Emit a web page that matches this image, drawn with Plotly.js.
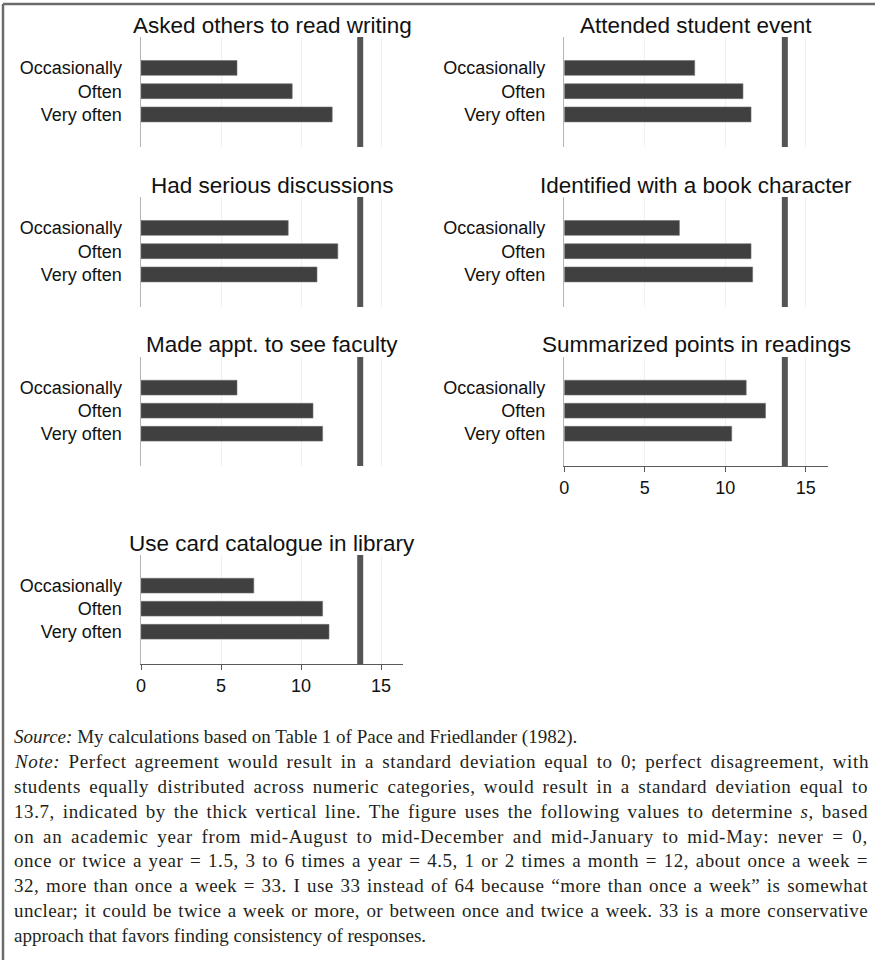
<!DOCTYPE html>
<html>
<head>
<meta charset="utf-8">
<script src="https://cdn.plot.ly/plotly-3.0.1.min.js"></script>
<style>
  html, body { margin: 0; padding: 0; background: #ffffff; }
  #chart { width: 875px; height: 960px; }
</style>
</head>
<body>
<div id="chart"></div>
<script>
// ---------- data ----------
const categories = ['Occasionally', 'Often', 'Very often'];
const panelTitles = [
  'Asked others to read writing',
  'Attended student event',
  'Had serious discussions',
  'Identified with a book character',
  'Made appt. to see faculty',
  'Summarized points in readings',
  'Use card catalogue in library'
];
const askedOthers        = [6.0, 9.45, 11.95];
const attendedEvent      = [8.1, 11.1, 11.6];
const seriousDiscussions = [9.2, 12.3, 11.0];
const identifiedCharacter= [7.15, 11.6, 11.7];
const madeAppt           = [6.0, 10.75, 11.35];
const summarizedPoints   = [11.3, 12.5, 10.4];
const cardCatalogue      = [7.05, 11.35, 11.75];
const panelValues = [askedOthers, attendedEvent, seriousDiscussions, identifiedCharacter,
                     madeAppt, summarizedPoints, cardCatalogue];
const perfectDisagreementSD = 13.7;
const xTickVals = [0, 5, 10, 15];
const xTickText = ['0', '5', '10', '15'];

const noteLines = [
  '<i>Source:</i> My calculations based on Table 1 of Pace and Friedlander (1982).',
  '<i>Note:</i> Perfect agreement would result in a standard deviation equal to 0; perfect disagreement, with',
  'students equally distributed across numeric categories, would result in a standard deviation equal to',
  '13.7, indicated by the thick vertical line. The figure uses the following values to determine <i>s</i>, based',
  'on an academic year from mid-August to mid-December and mid-January to mid-May: never = 0,',
  'once or twice a year = 1.5, 3 to 6 times a year = 4.5, 1 or 2 times a month = 12, about once a week =',
  '32, more than once a week = 33. I use 33 instead of 64 because \u201cmore than once a week\u201d is somewhat',
  'unclear; it could be twice a week or more, or between once and twice a week. 33 is a more conservative',
  'approach that favors finding consistency of responses.'
];
// lines that are justified to the full text width (paragraph-final lines are not)
const justifiedLines = [false, true, true, true, true, true, true, true, false];

// ---------- layout geometry (pixels) ----------
const W = 875, H = 960;
const colX = [[141, 403.4], [564.3, 828.3]];
const rowY = [[37, 147], [197, 307], [357, 466], [555, 664]];
const panelPos = [
  {col: 0, row: 0, showX: false},
  {col: 1, row: 0, showX: false},
  {col: 0, row: 1, showX: false},
  {col: 1, row: 1, showX: false},
  {col: 0, row: 2, showX: false},
  {col: 1, row: 2, showX: true},
  {col: 0, row: 3, showX: true}
];
const px2x = p => p / W;
const px2y = p => 1 - p / H;

const sans = 'Liberation Sans, Arial, Helvetica, sans-serif';
const serif = 'Liberation Serif, Times New Roman, serif';

const traces = [];
const layout = {
  width: W, height: H,
  margin: {l: 0, r: 0, t: 0, b: 0},
  paper_bgcolor: '#ffffff',
  plot_bgcolor: 'rgba(0,0,0,0)',
  showlegend: false,
  shapes: [],
  annotations: []
};

panelValues.forEach((vals, i) => {
  const n = i + 1;
  const p = panelPos[i];
  const xs = colX[p.col], ys = rowY[p.row];
  traces.push({
    type: 'bar', orientation: 'h',
    x: vals, y: categories,
    xaxis: 'x' + n, yaxis: 'y' + n,
    width: 0.64,
    marker: {color: '#404040', line: {color: '#6e6e6e', width: 0.6}},
    hoverinfo: 'skip', showlegend: false
  });
  layout['xaxis' + n] = {
    domain: [px2x(xs[0]), px2x(xs[1])],
    anchor: 'y' + n,
    range: [0, 16.4],
    tickmode: 'array', tickvals: xTickVals, ticktext: xTickText,
    showgrid: true, gridcolor: '#f0f0f0', gridwidth: 1,
    zeroline: false,
    showline: p.showX, linecolor: '#5a5a5a', linewidth: 1,
    ticks: p.showX ? 'outside' : '', ticklen: 5, tickwidth: 1, tickcolor: '#5a5a5a',
    showticklabels: p.showX,
    tickfont: {family: sans, size: 18, color: '#111111'},
    fixedrange: true
  };
  layout['yaxis' + n] = {
    domain: [px2y(ys[1]), px2y(ys[0])],
    anchor: 'x' + n,
    type: 'category', categoryarray: categories, categoryorder: 'array',
    range: [3.40, -1.33],
    showgrid: false, zeroline: false,
    showline: true, linecolor: '#b4b4b4', linewidth: 1.5,
    ticks: '', ticklabelstandoff: 14,
    tickfont: {family: sans, size: 18, color: '#111111'},
    fixedrange: true
  };
  layout.shapes.push({
    type: 'line', xref: 'x' + n, yref: 'y' + n + ' domain',
    x0: perfectDisagreementSD, x1: perfectDisagreementSD, y0: 0, y1: 1,
    line: {color: '#555555', width: 6}, layer: 'above'
  });
  layout.annotations.push({
    text: panelTitles[i],
    xref: 'x' + n + ' domain', yref: 'y' + n + ' domain',
    x: 0.5, y: 1, xanchor: 'center', yanchor: 'middle', yshift: 12,
    showarrow: false,
    font: {family: sans, size: 22.5, color: '#111111'}
  });
});

// frame lines (top and left)
layout.shapes.push({type: 'line', xref: 'paper', yref: 'paper',
  x0: px2x(3), x1: 1, y0: px2y(4), y1: px2y(4), line: {color: '#6b6b6b', width: 2.5}});
layout.shapes.push({type: 'line', xref: 'paper', yref: 'paper',
  x0: px2x(3), x1: px2x(3), y0: px2y(4), y1: 0, line: {color: '#6b6b6b', width: 2.5}});

// note lines
const noteLeft = 12, noteRight = 866;
const noteTop = 737, noteStep = 24.75;
const firstNoteIndex = layout.annotations.length;
noteLines.forEach((t, k) => {
  layout.annotations.push({
    text: t, xref: 'paper', yref: 'paper',
    x: px2x(noteLeft), y: px2y(noteTop + k * noteStep),
    xanchor: 'left', yanchor: 'middle', align: 'left',
    showarrow: false,
    font: {family: serif, size: 19, color: '#231f20'}
  });
});

Plotly.newPlot('chart', traces, layout, {staticPlot: true, displayModeBar: false}).then(gd => {
  // justify the note lines like the printed paragraph:
  // part of the slack goes into letter spacing (wider typeface), the rest into word spacing
  noteLines.forEach((t, k) => {
    if (!justifiedLines[k]) return;
    const g = gd.querySelector('.annotation[data-index="' + (firstNoteIndex + k) + '"] .annotation-text');
    if (!g) return;
    const target = noteRight - noteLeft;
    const w = g.getComputedTextLength();
    const chars = g.textContent.length;
    const spaces = (g.textContent.match(/ /g) || []).length;
    const extra = target - w;
    if (extra <= 0 || spaces === 0) return;
    g.style.letterSpacing = (0.6 * extra / chars) + 'px';
    const w2 = g.getComputedTextLength();
    const rest = target - w2;
    if (rest > 0) g.style.wordSpacing = (rest / spaces) + 'px';
  });
});
</script>
</body>
</html>
